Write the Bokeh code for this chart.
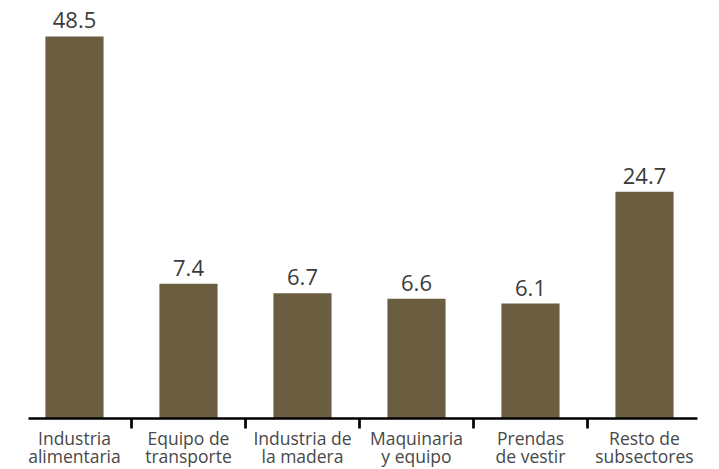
from bokeh.plotting import figure
from bokeh.models import ColumnDataSource, Range1d, FixedTicker, LinearAxis
from bokeh.embed import file_html
from bokeh.resources import INLINE
from bokeh.core.properties import value

# Data
categories = ["Industria\nalimentaria", "Equipo de\ntransporte", "Industria de\nla madera",
              "Maquinaria\ny equipo", "Prendas\nde vestir", "Resto de\nsubsectores"]
values = [48.5, 7.4, 6.7, 6.6, 6.1, 24.7]
# bar heights as drawn in the reference (not proportional to the labels)
bar_heights = [48.5, 17.1, 15.9, 15.2, 14.6, 28.8]
labels = ["48.5", "7.4", "6.7", "6.6", "6.1", "24.7"]

xs = list(range(len(categories)))
src = ColumnDataSource(dict(x=xs, top=bar_heights, lab=labels))

p = figure(width=719, height=469, output_backend="svg", toolbar_location=None,
           x_range=Range1d(-0.649, 5.658), y_range=Range1d(-6.475, 53.07),
           x_axis_location=None, y_axis_location=None,
           min_border_left=0, min_border_right=0, min_border_top=0, min_border_bottom=0)
p.outline_line_color = None
p.xgrid.grid_line_color = None
p.ygrid.grid_line_color = None
p.background_fill_color = "white"

p.vbar(x="x", top="top", bottom=0, width=0.51, source=src,
       fill_color="#6a5d40", line_color=None)

p.text(x="x", y="top", text="lab", source=src, text_align="center",
       text_baseline="bottom", y_offset=-8, text_font=value("Open Sans"),
       text_font_size="22px", text_color="#3b3b3b")

ax = LinearAxis(ticker=FixedTicker(ticks=xs, minor_ticks=[0.5, 1.5, 2.5, 3.5, 4.5]),
                bounds=(-0.404, 5.465), fixed_location=0)
ax.major_label_overrides = {i: c for i, c in enumerate(categories)}
ax.axis_line_color = "black"
ax.axis_line_width = 2.7
ax.major_tick_out = 0
ax.major_tick_in = 0
ax.minor_tick_out = 10
ax.minor_tick_in = 0
ax.minor_tick_line_color = "black"
ax.minor_tick_line_width = 2.7
ax.major_label_text_font = "Open Sans"
ax.major_label_text_font_size = "17.5px"
ax.major_label_text_color = "#484848"
ax.major_label_text_line_height = 0.76
ax.major_label_standoff = -3
p.add_layout(ax, "below")

open("out.html", "w").write(file_html(p, INLINE))
